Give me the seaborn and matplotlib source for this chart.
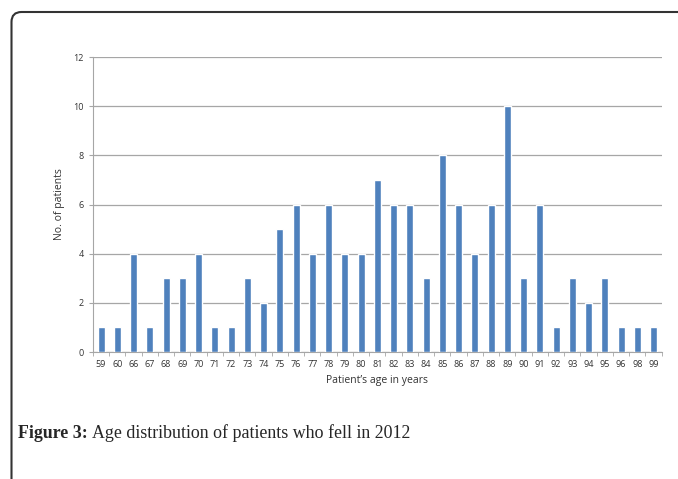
import matplotlib
matplotlib.use("Agg")
import matplotlib.pyplot as plt
from matplotlib.patches import FancyBboxPatch
import seaborn as sns
import pandas as pd

# ===================== data =====================
ages = ["59", "60", "66", "67", "68", "69", "70", "71", "72", "73", "74", "75",
        "76", "77", "78", "79", "80", "81", "82", "83", "84", "85", "86", "87",
        "88", "89", "90", "91", "92", "93", "94", "95", "96", "98", "99"]
patients = [1, 1, 4, 1, 3, 3, 4, 1, 1, 3, 2, 5,
            6, 4, 6, 4, 4, 7, 6, 6, 3, 8, 6, 4,
            6, 10, 3, 6, 1, 3, 2, 3, 1, 1, 1]
y_ticks = [0, 2, 4, 6, 8, 10, 12]

df = pd.DataFrame({"age": ages, "count": patients})

# ===================== figure =====================
sns.set_style("white")
plt.rcParams["font.family"] = ["Open Sans", "DejaVu Sans"]

fig = plt.figure(figsize=(6.78, 4.79), dpi=100)
ax = fig.add_axes([0.137, 0.265, 0.839, 0.616])

sns.barplot(data=df, x="age", y="count", order=ages, color="#4F81BD",
            saturation=1, width=0.43, ax=ax, zorder=3)

ax.set_ylim(0, 12)
ax.set_yticks(y_ticks)
ax.set_xlim(-0.5, len(ages) - 0.5)
ax.yaxis.grid(True, color="#A6A6A6", linewidth=0.9)
ax.set_axisbelow(True)

for s in ["top", "right"]:
    ax.spines[s].set_visible(False)
ax.spines["left"].set_color("#A6A6A6")
ax.spines["bottom"].set_color("#A6A6A6")

# excel style ticks between categories
ax.set_xticks([i + 0.5 for i in range(-1, len(ages))], minor=True)
ax.tick_params(axis="x", which="major", length=0, labelsize=6.5, pad=6, colors="#333333")
ax.tick_params(axis="x", which="minor", length=3, color="#A6A6A6", direction="out", bottom=True)
ax.tick_params(axis="y", length=3, color="#A6A6A6", labelsize=6.5, colors="#333333",
               direction="out", left=True)

ax.set_xlabel("Patient\u2019s age in years", fontsize=7.5, color="#333333", labelpad=4)
ax.set_ylabel("No. of patients", fontsize=7.5, color="#333333", labelpad=6)

# caption
cap = fig.text(0.027, 0.085, "Figure 3:", fontsize=12.9, fontweight="bold",
               family="Liberation Serif", ha="left", va="baseline")
ax.annotate("Age distribution of patients who fell in 2012", xy=(1, 0), xycoords=cap,
            xytext=(3, 0), textcoords="offset points", fontsize=12.9,
            family="Liberation Serif", ha="left", va="bottom", annotation_clip=False)

# frame
frame = FancyBboxPatch((0.115, -1.0), 10, 5.67,
                       boxstyle="round,pad=0,rounding_size=0.1",
                       transform=fig.dpi_scale_trans, fill=False,
                       edgecolor="#333333", linewidth=1.5, clip_on=False)
fig.patches.append(frame)

fig.savefig("out.png", dpi=100)
